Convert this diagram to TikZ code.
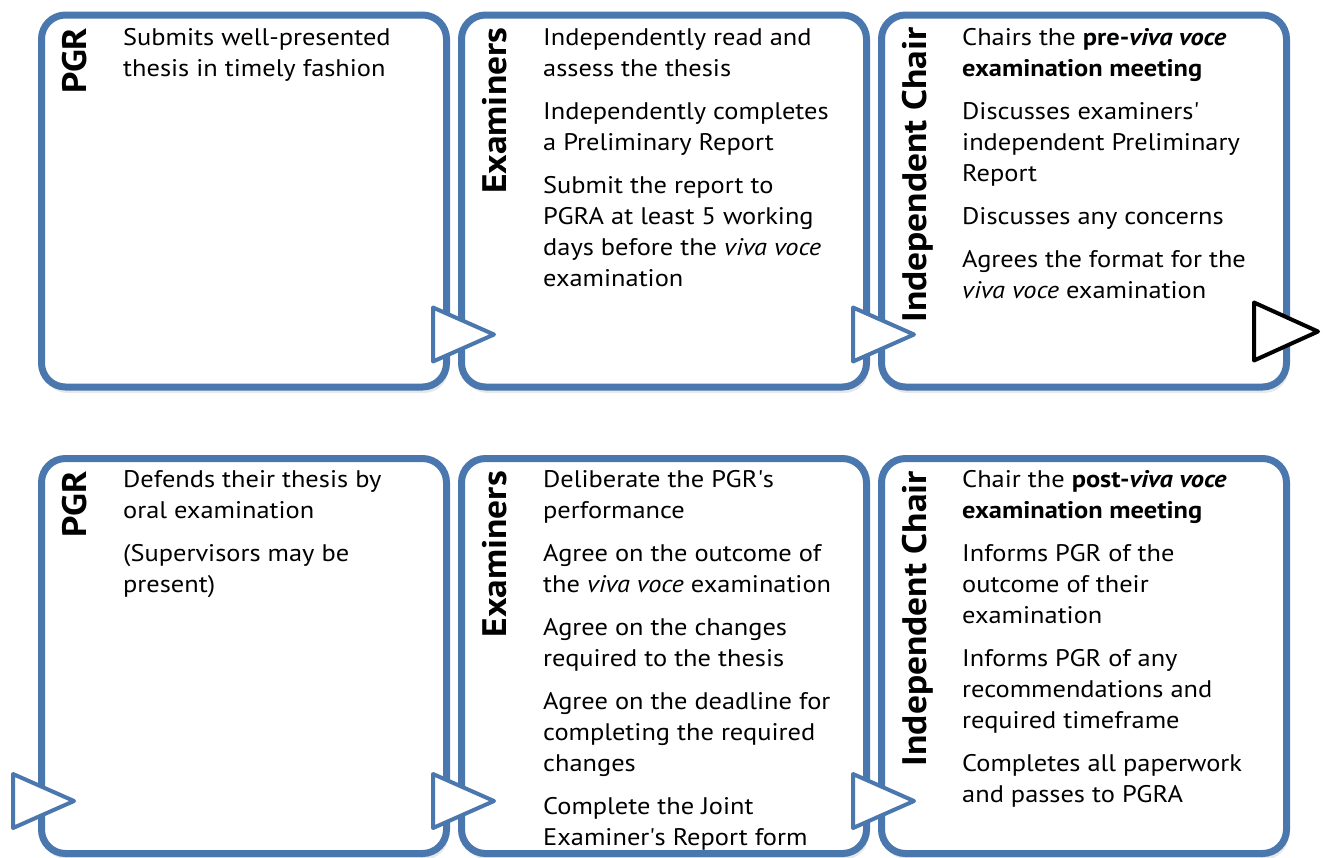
\documentclass[tikz,border=0pt]{standalone}
\usepackage{fontspec}
\setmainfont{PT Sans}[FakeStretch=1.1]
\usepackage{tikz}
\usetikzlibrary{positioning,shadows}
\definecolor{boxblue}{RGB}{74,119,174}
\tikzset{box node/.style={rectangle,rounded corners=24pt,draw=boxblue,line width=7pt,fill=white,
            minimum width=405pt,inner sep=0pt,
            drop shadow={opacity=0.18,shadow xshift=2pt,shadow yshift=-6pt}},
         title node/.style={rotate=90,anchor=base east,inner sep=0pt,
            font=\fontsize{34}{40}\selectfont\bfseries},
         text node/.style={anchor=north west,inner sep=0pt,align=left,
            font=\fontsize{24}{31}\selectfont},
         tri node/.style={draw=boxblue,line width=4pt,fill=white,line join=round},
            }

\begin{document}
\begin{tikzpicture}[x=1pt,y=1pt]
    \useasboundingbox (0,0) rectangle (1324,-857);

    \node[box node,minimum height=372pt] (pgrA) at (244,-201) {};
    \node[box node,minimum height=372pt] (examA) [right=8pt of pgrA] {};
    \node[box node,minimum height=372pt] (chairA) [right=8pt of examA] {};
    \node[box node,minimum height=395pt] (pgrB) [below=64.5pt of pgrA] {};
    \node[box node,minimum height=395pt] (examB) [right=8pt of pgrB] {};
    \node[box node,minimum height=395pt] (chairB) [right=8pt of examB] {};

    \foreach \b/\t in {pgrA/PGR,examA/Examiners,chairA/Independent Chair,
                       pgrB/PGR,examB/Examiners,chairB/Independent Chair}
        \node[title node] (\b-title) at ([shift={(48,-16)}]\b.north west) {\t};

    \node[text node] (pgrA-text) at ([shift={(85,-12)}]pgrA.north west)
        {\strut Submits well-presented\\thesis in timely fashion};
    \node[text node] (examA-text) at ([shift={(85,-12)}]examA.north west)
        {\strut Independently read and\\assess the thesis\\[12pt]
         Independently completes\\a Preliminary Report\\[12pt]
         Submit the report to\\PGRA at least 5 working\\days before the \textit{viva voce}\\examination};
    \node[text node] (chairA-text) at ([shift={(84,-12)}]chairA.north west)
        {\strut Chairs the \textbf{pre-\textit{viva voce}}\\\textbf{examination meeting}\\[12pt]
         Discusses examiners\textquotesingle\\independent Preliminary\\Report\\[12pt]
         Discusses any concerns\\[12pt]
         Agrees the format for the\\\textit{viva voce} examination};

    \node[text node] (pgrB-text) at ([shift={(85,-11)}]pgrB.north west)
        {\strut Defends their thesis by\\oral examination\\[12pt]
         (Supervisors may be\\present)};
    \node[text node] (examB-text) at ([shift={(85,-11)}]examB.north west)
        {\strut Deliberate the PGR\textquotesingle s\\performance\\[12pt]
         Agree on the outcome of\\the \textit{viva voce} examination\\[12pt]
         Agree on the changes\\required to the thesis\\[12pt]
         Agree on the deadline for\\completing the required\\changes\\[12pt]
         Complete the Joint\\Examiner\textquotesingle s Report form};
    \node[text node] (chairB-text) at ([shift={(84,-11)}]chairB.north west)
        {\strut Chair the \textbf{post-\textit{viva voce}}\\\textbf{examination meeting}\\[12pt]
         Informs PGR of the\\outcome of their\\examination\\[12pt]
         Informs PGR of any\\recommendations and\\required timeframe\\[12pt]
         Completes all paperwork\\and passes to PGRA};

    % flow markers
    \foreach \b in {examA,chairA,pgrB,examB,chairB}
        \draw[tri node] ([shift={(-25,29)}]\b.south west) -- ++(0,54) -- ++(61,-27) -- cycle;
    \draw[tri node,draw=black] ([shift={(-36,30)}]chairA.south east) -- ++(0,58) -- ++(64,-29) -- cycle;
    %%
\end{tikzpicture}
\end{document}
